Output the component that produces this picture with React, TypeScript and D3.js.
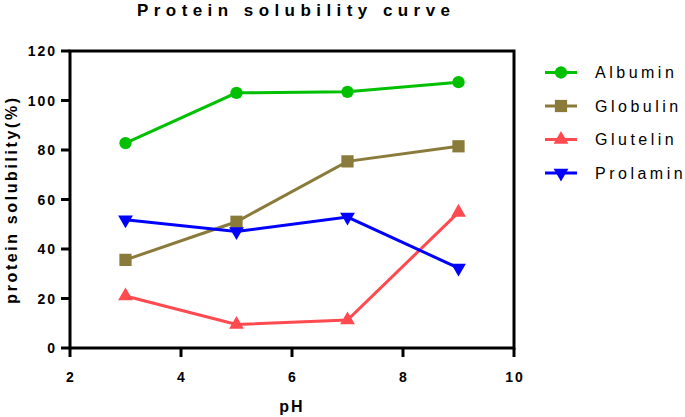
import React from "react";
import * as d3 from "d3";

const phValues = [3, 5, 7, 9];
const albumin = [82.8, 103.1, 103.5, 107.4];
const globulin = [35.6, 51.0, 75.4, 81.5];
const glutelin = [21.0, 9.5, 11.3, 54.8];
const prolamin = [51.8, 47.1, 52.9, 32.3];
const xTicks = [2, 4, 6, 8, 10];
const yTicks = [0, 20, 40, 60, 80, 100, 120];

const series = [
  { name: "Albumin", values: albumin, color: "#00c000", symbol: d3.symbolCircle, size: 120, rotate: 0 },
  { name: "Globulin", values: globulin, color: "#8b7b3a", symbol: d3.symbolSquare, size: 150, rotate: 0 },
  { name: "Glutelin", values: glutelin, color: "#ff4a50", symbol: d3.symbolTriangle, size: 95, rotate: 0 },
  { name: "Prolamin", values: prolamin, color: "#0000ff", symbol: d3.symbolTriangle, size: 95, rotate: 180 },
];

const W = 685;
const H = 417;
const font = "'Liberation Sans', Arial, sans-serif";

export default function App() {
  const x = d3.scaleLinear().domain([2, 10]).range([70, 514]);
  const y = d3.scaleLinear().domain([0, 120]).range([348, 51]);

  const line = d3
    .line<number>()
    .x((_, i) => x(phValues[i]))
    .y((d) => y(d));

  return (
    <svg
      width={W}
      height={H}
      style={{ position: "absolute", left: 0, top: 0, background: "#fff" }}
      fontFamily={font}
    >
      {/* title */}
      <text
        x={137}
        y={16}
        fontSize={17}
        fontWeight="bold"
        textLength={313}
        lengthAdjust="spacing"
      >
        Protein solubility curve
      </text>

      {/* frame */}
      <rect
        x={x(2)}
        y={y(120)}
        width={x(10) - x(2)}
        height={y(0) - y(120)}
        fill="none"
        stroke="#000"
        strokeWidth={3}
      />

      {/* y axis */}
      {yTicks.map((t) => (
        <g key={t}>
          <line x1={x(2) - 9} x2={x(2)} y1={y(t)} y2={y(t)} stroke="#000" strokeWidth={3} />
          <text
            x={57}
            y={y(t)}
            dy="0.36em"
            textAnchor="end"
            fontSize={14}
            fontWeight="bold"
            letterSpacing={2}
          >
            {t}
          </text>
        </g>
      ))}

      {/* x axis */}
      {xTicks.map((t) => (
        <g key={t}>
          <line x1={x(t)} x2={x(t)} y1={y(0)} y2={y(0) + 9} stroke="#000" strokeWidth={3} />
          <text
            x={x(t) + 1}
            y={382}
            textAnchor="middle"
            fontSize={14}
            fontWeight="bold"
            letterSpacing={2}
          >
            {t}
          </text>
        </g>
      ))}

      <text x={292} y={412} textAnchor="middle" fontSize={16} fontWeight="bold" letterSpacing={2}>
        pH
      </text>
      <text
        transform={`translate(17,${(y(0) + y(120)) / 2}) rotate(-90)`}
        textAnchor="middle"
        fontSize={16}
        fontWeight="bold"
        letterSpacing={2.6}
      >
        protein solubility(%)
      </text>

      {/* series */}
      {series.map((s) => {
        const sym = d3.symbol().type(s.symbol).size(s.size)();
        return (
          <g key={s.name}>
            <path d={line(s.values) ?? undefined} fill="none" stroke={s.color} strokeWidth={3} />
            {s.values.map((v, i) => (
              <path
                key={i}
                d={sym ?? undefined}
                fill={s.color}
                transform={`translate(${x(phValues[i])},${y(v)}) rotate(${s.rotate})`}
              />
            ))}
          </g>
        );
      })}

      {/* legend */}
      {series.map((s, i) => {
        const ly = 72.5 + i * 33.5;
        const sym = d3.symbol().type(s.symbol).size(s.size)();
        return (
          <g key={s.name}>
            <line x1={545} x2={577} y1={ly} y2={ly} stroke={s.color} strokeWidth={3} />
            <path d={sym ?? undefined} fill={s.color} transform={`translate(561,${ly}) rotate(${s.rotate})`} />
            <text x={595} y={ly} dy="0.36em" fontSize={16} letterSpacing={3.5}>
              {s.name}
            </text>
          </g>
        );
      })}
    </svg>
  );
}
